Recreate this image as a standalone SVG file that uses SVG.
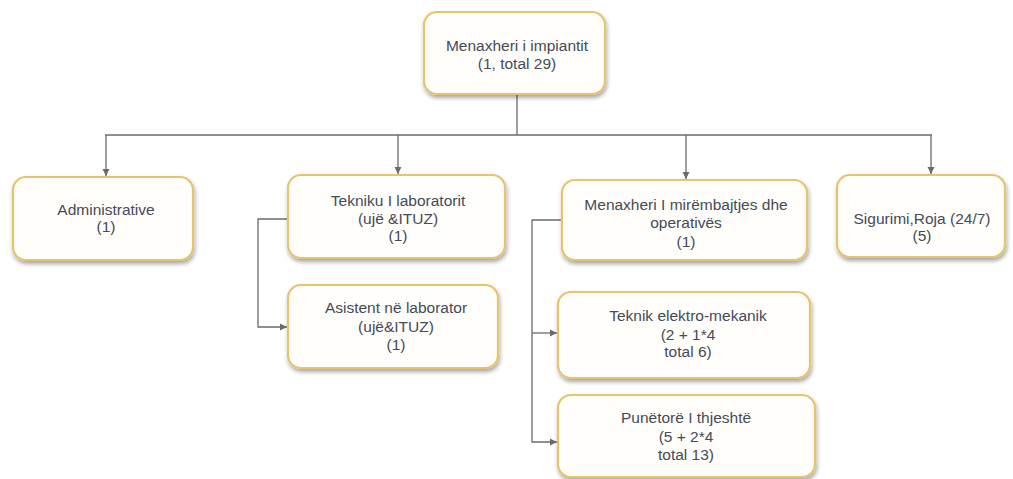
<svg xmlns="http://www.w3.org/2000/svg" width="1013" height="479" viewBox="0 0 1013 479">
<style>
.box{fill:#fffefa;stroke:#e6c46e;stroke-width:2.2;filter:url(#sh)}
.t{font-family:"Liberation Sans",Arial,sans-serif;font-size:15.5px;fill:#454a58;text-anchor:middle}
.c{fill:none;stroke:#6b6b6b;stroke-width:1.3}
</style>
<defs>
<filter id="sh" x="-10%" y="-10%" width="120%" height="130%">
<feGaussianBlur in="SourceAlpha" stdDeviation="2"/>
<feOffset dx="1" dy="3" result="b"/>
<feComponentTransfer><feFuncA type="linear" slope="0.35"/></feComponentTransfer>
<feMerge><feMergeNode/><feMergeNode in="SourceGraphic"/></feMerge>
</filter>
<marker id="ar" markerWidth="8" markerHeight="8" refX="7" refY="4" orient="auto" markerUnits="userSpaceOnUse">
<path d="M0,0.5 L7,4 L0,7.5 Z" fill="#6b6b6b"/>
</marker>
</defs>
<rect width="1013" height="479" fill="#ffffff"/>
<g id="connectors">
<path class="c" d="M517,94 V135"/>
<path class="c" d="M105,135 H932"/>
<path class="c" d="M106,135 V176" marker-end="url(#ar)"/>
<path class="c" d="M398,135 V174" marker-end="url(#ar)"/>
<path class="c" d="M686,135 V179" marker-end="url(#ar)"/>
<path class="c" d="M931,135 V174" marker-end="url(#ar)"/>
<path class="c" d="M288,219 H258 V327 H287" marker-end="url(#ar)"/>
<path class="c" d="M562,220 H532 V442 H557" marker-end="url(#ar)"/>
<path class="c" d="M532,333 H557" marker-end="url(#ar)"/>
</g>
<g id="n-top">
<rect class="box" x="424" y="12" width="181" height="82" rx="13"/>
<text class="t" x="517" y="51">Menaxheri i impiantit</text>
<text class="t" x="517" y="69">(1, total 29)</text>
</g>
<g id="n-admin">
<rect class="box" x="13" y="177" width="180" height="83" rx="13"/>
<text class="t" x="106" y="215">Administrative</text>
<text class="t" x="106" y="232">(1)</text>
</g>
<g id="n-tekniku">
<rect class="box" x="288" y="175" width="217" height="83" rx="13"/>
<text class="t" x="398" y="206">Tekniku I laboratorit</text>
<text class="t" x="398" y="224">(ujë &amp;ITUZ)</text>
<text class="t" x="398" y="241">(1)</text>
</g>
<g id="n-menaxheri2">
<rect class="box" x="562" y="180" width="245" height="80" rx="13"/>
<text class="t" x="686" y="210">Menaxheri I mirëmbajtjes dhe</text>
<text class="t" x="686" y="228">operativës</text>
<text class="t" x="686" y="247">(1)</text>
</g>
<g id="n-sigurimi">
<rect class="box" x="837" y="175" width="168" height="82" rx="13"/>
<text class="t" x="922" y="224">Sigurimi,Roja (24/7)</text>
<text class="t" x="922" y="241">(5)</text>
</g>
<g id="n-asistent">
<rect class="box" x="288" y="285" width="210" height="83" rx="13"/>
<text class="t" x="396" y="313">Asistent në laborator</text>
<text class="t" x="396" y="332">(ujë&amp;ITUZ)</text>
<text class="t" x="396" y="350">(1)</text>
</g>
<g id="n-teknik">
<rect class="box" x="558" y="292" width="252" height="86" rx="13"/>
<text class="t" x="688" y="321">Teknik elektro-mekanik</text>
<text class="t" x="688" y="340">(2 + 1*4</text>
<text class="t" x="688" y="357">total 6)</text>
</g>
<g id="n-punetore">
<rect class="box" x="558" y="395" width="257" height="82" rx="13"/>
<text class="t" x="686" y="423">Punëtorë I thjeshtë</text>
<text class="t" x="686" y="442">(5 + 2*4</text>
<text class="t" x="686" y="460">total 13)</text>
</g>
</svg>
